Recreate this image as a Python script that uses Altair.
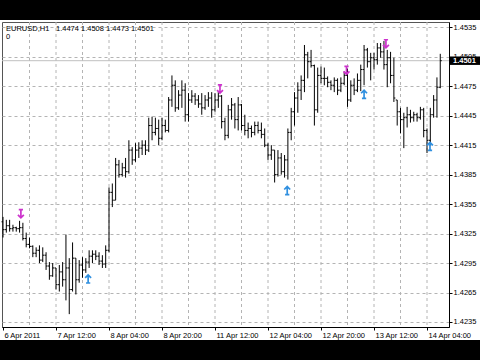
import altair as alt
import pandas as pd

# ---------------- data (EURUSD H1, 6 Apr 2011 20:00 ... 14 Apr 08:00) ----------------
open_ = [1.4337, 1.4329, 1.4333, 1.4330, 1.4331, 1.4330, 1.4331, 1.4320, 1.4314, 1.4312,
         1.4305, 1.4308, 1.4298, 1.4303, 1.4292, 1.4282, 1.4290, 1.4273, 1.4286, 1.4278,
         1.4290, 1.4268, 1.4300, 1.4278, 1.4293, 1.4288, 1.4296, 1.4302, 1.4304, 1.4302,
         1.4297, 1.4294, 1.4308, 1.4367, 1.4359, 1.4395, 1.4385, 1.4392, 1.4388, 1.4410,
         1.4400, 1.4410, 1.4412, 1.4415, 1.4410, 1.4435, 1.4428, 1.4432, 1.4422, 1.4435,
         1.4430, 1.4461, 1.4476, 1.4453, 1.4466, 1.4471, 1.4446, 1.4461, 1.4465, 1.4461,
         1.4457, 1.4453, 1.4461, 1.4463, 1.4451, 1.4461, 1.4465, 1.4439, 1.4425, 1.4451,
         1.4456, 1.4441, 1.4456, 1.4435, 1.4430, 1.4432, 1.4428, 1.4435, 1.4430, 1.4426,
         1.4415, 1.4405, 1.4410, 1.4385, 1.4402, 1.4388, 1.4400, 1.4428, 1.4449, 1.4463,
         1.4471, 1.4481, 1.4507, 1.4500, 1.4496, 1.4451, 1.4486, 1.4483, 1.4483, 1.4479,
         1.4476, 1.4481, 1.4471, 1.4478, 1.4486, 1.4461, 1.4476, 1.4471, 1.4481, 1.4492,
         1.4512, 1.4500, 1.4504, 1.4502, 1.4514, 1.4510, 1.4497, 1.4504, 1.4486, 1.4461,
         1.4449, 1.4441, 1.4443, 1.4446, 1.4443, 1.4446, 1.4443, 1.4451, 1.4430, 1.4420,
         1.4446, 1.4461, 1.4474]
high = [1.4342, 1.4339, 1.4339, 1.4334, 1.4332, 1.4338, 1.4336, 1.4326, 1.4321, 1.4313,
        1.4311, 1.4313, 1.4311, 1.4306, 1.4296, 1.4295, 1.4290, 1.4293, 1.4296, 1.4324,
        1.4300, 1.4316, 1.4300, 1.4298, 1.4301, 1.4300, 1.4308, 1.4308, 1.4308, 1.4306,
        1.4303, 1.4313, 1.4372, 1.4376, 1.4402, 1.4400, 1.4397, 1.4402, 1.4420, 1.4413,
        1.4417, 1.4418, 1.4420, 1.4420, 1.4443, 1.4444, 1.4443, 1.4441, 1.4443, 1.4441,
        1.4464, 1.4486, 1.4481, 1.4471, 1.4481, 1.4478, 1.4468, 1.4471, 1.4468, 1.4466,
        1.4468, 1.4466, 1.4469, 1.4469, 1.4468, 1.4469, 1.4466, 1.4443, 1.4456, 1.4463,
        1.4458, 1.4464, 1.4457, 1.4446, 1.4438, 1.4435, 1.4439, 1.4439, 1.4438, 1.4432,
        1.4417, 1.4415, 1.4410, 1.4410, 1.4407, 1.4405, 1.4432, 1.4453, 1.4469, 1.4479,
        1.4486, 1.4517, 1.4510, 1.4512, 1.4497, 1.4494, 1.4495, 1.4494, 1.4485, 1.4481,
        1.4484, 1.4483, 1.4484, 1.4490, 1.4493, 1.4481, 1.4483, 1.4488, 1.4497, 1.4517,
        1.4514, 1.4509, 1.4509, 1.4519, 1.4519, 1.4521, 1.4512, 1.4510, 1.4504, 1.4461,
        1.4453, 1.4448, 1.4454, 1.4451, 1.4449, 1.4448, 1.4454, 1.4453, 1.4432, 1.4453,
        1.4466, 1.4484, 1.4508]
low = [1.4321, 1.4326, 1.4327, 1.4327, 1.4327, 1.4326, 1.4318, 1.4311, 1.4310, 1.4301,
       1.4301, 1.4295, 1.4296, 1.4288, 1.4278, 1.4281, 1.4268, 1.4266, 1.4271, 1.4257,
       1.4243, 1.4266, 1.4263, 1.4275, 1.4280, 1.4285, 1.4290, 1.4295, 1.4298, 1.4293,
       1.4290, 1.4290, 1.4306, 1.4352, 1.4359, 1.4382, 1.4383, 1.4382, 1.4386, 1.4395,
       1.4398, 1.4402, 1.4405, 1.4405, 1.4408, 1.4420, 1.4425, 1.4415, 1.4420, 1.4428,
       1.4428, 1.4454, 1.4449, 1.4451, 1.4453, 1.4439, 1.4439, 1.4458, 1.4456, 1.4453,
       1.4446, 1.4451, 1.4454, 1.4443, 1.4449, 1.4453, 1.4432, 1.4420, 1.4422, 1.4441,
       1.4432, 1.4430, 1.4430, 1.4425, 1.4422, 1.4423, 1.4425, 1.4427, 1.4422, 1.4413,
       1.4400, 1.4400, 1.4377, 1.4383, 1.4385, 1.4382, 1.4380, 1.4420, 1.4435, 1.4448,
       1.4461, 1.4469, 1.4483, 1.4494, 1.4435, 1.4448, 1.4478, 1.4476, 1.4474, 1.4471,
       1.4469, 1.4466, 1.4469, 1.4476, 1.4454, 1.4459, 1.4466, 1.4469, 1.4470, 1.4476,
       1.4494, 1.4481, 1.4492, 1.4497, 1.4504, 1.4492, 1.4474, 1.4478, 1.4459, 1.4435,
       1.4427, 1.4412, 1.4433, 1.4438, 1.4439, 1.4439, 1.4441, 1.4423, 1.4407, 1.4415,
       1.4443, 1.4443, 1.4473]
close = [1.4329, 1.4333, 1.4330, 1.4331, 1.4330, 1.4331, 1.4320, 1.4314, 1.4312, 1.4305,
         1.4308, 1.4298, 1.4303, 1.4292, 1.4282, 1.4290, 1.4273, 1.4286, 1.4278, 1.4290,
         1.4268, 1.4300, 1.4278, 1.4293, 1.4288, 1.4296, 1.4302, 1.4304, 1.4302, 1.4297,
         1.4294, 1.4308, 1.4367, 1.4359, 1.4395, 1.4385, 1.4392, 1.4388, 1.4410, 1.4400,
         1.4410, 1.4412, 1.4415, 1.4410, 1.4435, 1.4428, 1.4432, 1.4422, 1.4435, 1.4430,
         1.4461, 1.4476, 1.4453, 1.4466, 1.4471, 1.4446, 1.4461, 1.4465, 1.4461, 1.4457,
         1.4453, 1.4461, 1.4463, 1.4451, 1.4461, 1.4465, 1.4439, 1.4425, 1.4451, 1.4456,
         1.4441, 1.4456, 1.4435, 1.4430, 1.4432, 1.4428, 1.4435, 1.4430, 1.4426, 1.4415,
         1.4405, 1.4410, 1.4385, 1.4402, 1.4388, 1.4400, 1.4428, 1.4449, 1.4463, 1.4471,
         1.4481, 1.4507, 1.4500, 1.4496, 1.4451, 1.4486, 1.4483, 1.4483, 1.4479, 1.4476,
         1.4481, 1.4471, 1.4478, 1.4486, 1.4461, 1.4476, 1.4471, 1.4481, 1.4492, 1.4512,
         1.4500, 1.4504, 1.4502, 1.4514, 1.4510, 1.4497, 1.4504, 1.4486, 1.4463, 1.4449,
         1.4441, 1.4443, 1.4446, 1.4443, 1.4446, 1.4443, 1.4451, 1.4430, 1.4420, 1.4446,
         1.4461, 1.4474, 1.4501]

tick_idx = [0, 16, 32, 48, 64, 80, 96, 112, 128]
tick_labels = ["6 Apr 2011", "7 Apr 12:00", "8 Apr 04:00", "8 Apr 20:00", "11 Apr 12:00",
               "12 Apr 04:00", "12 Apr 20:00", "13 Apr 12:00", "14 Apr 04:00"]
grid_idx = [8, 16, 24, 32, 40, 48, 56, 64, 72, 80, 88, 96, 104, 112, 120, 128]
y_ticks = [1.4235, 1.4265, 1.4295, 1.4325, 1.4355, 1.4385, 1.4415, 1.4445, 1.4475, 1.4505, 1.4535]

frac_up_idx = [5.4, 65.5, 103.7, 115.6]          # magenta arrows (up fractals)
frac_up_price = [1.4345, 1.4472, 1.4491, 1.4518]
frac_dn_idx = [25.7, 85.8, 109.0, 128.9]         # blue arrows (down fractals)
frac_dn_price = [1.4279, 1.4369, 1.4467, 1.4414]

symbol_text = "EURUSD,H1"
ohlc_text = "1.4474 1.4508 1.4473 1.4501"
second_line = "0"
bid = 1.4501

# ---------------- chart ----------------
n = len(close)
bars = pd.DataFrame({"i": list(range(n)), "o": open_, "h": high, "l": low, "c": close})
bars["il"] = bars["i"] - 0.45
bars["ir"] = bars["i"] + 0.45

W, H = 447, 305
FONT = "Liberation Sans"
xs = alt.Scale(domain=[-0.302, 134.64], nice=False, zero=False)
ys = alt.Scale(domain=[1.42299, 1.45404], nice=False, zero=False)

label_expr = ""
for v, t in zip(tick_idx, tick_labels):
    label_expr += f"datum.value == {v} ? '{t}' : "
label_expr += "''"

x_axis = alt.Axis(values=tick_idx, labelExpr=label_expr, orient="bottom", grid=False,
                  tickSize=3, labelAlign="left", labelPadding=1, labelOffset=1,
                  labelFontSize=7.5, labelFont=FONT, labelColor="black",
                  domainColor="black", tickColor="black", labelFlush=False,
                  labelOverlap=False, labelBound=False, title=None)
y_axis = alt.Axis(values=y_ticks, format=".4f", orient="right", grid=True,
                  gridDash=[3, 3], gridColor="#b4b4b4", tickSize=3, labelPadding=1,
                  labelFontSize=7.5, labelFont=FONT, labelColor="black",
                  domainColor="black", tickColor="black", labelOverlap=False,
                  labelFlush=False, labelBound=False, title=None)


def X(field, **kw):
    return alt.X(field, scale=xs, axis=x_axis, **kw)


def Y(field, **kw):
    return alt.Y(field, scale=ys, axis=y_axis, **kw)


one = pd.DataFrame({"a": [0]})

vgrid = alt.Chart(pd.DataFrame({"g": grid_idx})).mark_rule(
    color="#b4b4b4", strokeDash=[3, 3], strokeWidth=1
).encode(x=X("g:Q"))

bidline = alt.Chart(pd.DataFrame({"b": [bid]})).mark_rule(color="#c0c0c0", strokeWidth=1).encode(
    y=Y("b:Q"))

hl = alt.Chart(bars).mark_rule(color="black", strokeWidth=1).encode(
    x=X("i:Q"), y=Y("l:Q"), y2="h:Q")
otick = alt.Chart(bars).mark_rule(color="black", strokeWidth=1).encode(
    x=X("il:Q"), x2="i:Q", y=Y("o:Q"))
ctick = alt.Chart(bars).mark_rule(color="black", strokeWidth=1).encode(
    x=X("i:Q"), x2="ir:Q", y=Y("c:Q"))

down_arrow = "M0,-1L0,0.9M-0.7,0.2L0,0.9L0.7,0.2M-0.5,-1L0.5,-1"
up_arrow = "M0,1L0,-0.9M-0.7,-0.2L0,-0.9L0.7,-0.2M-0.5,1L0.5,1"
fr_up = alt.Chart(pd.DataFrame({"i": frac_up_idx, "p": frac_up_price})).mark_point(
    shape=down_arrow, filled=False, size=72, strokeWidth=1.7, color="#cc33cc", opacity=1
).encode(x=X("i:Q"), y=Y("p:Q"))
fr_dn = alt.Chart(pd.DataFrame({"i": frac_dn_idx, "p": frac_dn_price})).mark_point(
    shape=up_arrow, filled=False, size=72, strokeWidth=1.7, color="#3090e0", opacity=1
).encode(x=X("i:Q"), y=Y("p:Q"))

top_band = alt.Chart(one).mark_rect(color="black").encode(
    x=alt.value(-2), x2=alt.value(478), y=alt.value(-22), y2=alt.value(-2))
bottom_band = alt.Chart(one).mark_rect(color="black").encode(
    x=alt.value(-2), x2=alt.value(478), y=alt.value(318), y2=alt.value(338))

tag = pd.DataFrame({"b": [bid], "t": [bid + 0.00043], "u": [bid - 0.00043],
                    "s": [f"{bid:.4f}"]})
tag_box = alt.Chart(tag).mark_rect(color="black").encode(
    x=alt.value(W), x2=alt.value(478), y=Y("t:Q"), y2="u:Q")
tag_text = alt.Chart(tag).mark_text(
    color="white", align="left", baseline="middle",
    font=FONT, fontSize=7.5, fontWeight="bold"
).encode(x=alt.value(W + 4), y=Y("b:Q"), text="s:N")

t1 = alt.Chart(one).mark_text(text=symbol_text, align="left", baseline="middle",
                              font=FONT, fontSize=7.5, color="black").encode(
    x=alt.value(4), y=alt.value(7))
t2 = alt.Chart(one).mark_text(text=ohlc_text, align="left", baseline="middle",
                              font=FONT, fontSize=7.5, color="black").encode(
    x=alt.value(54), y=alt.value(7))
t3 = alt.Chart(one).mark_text(text=second_line, align="left", baseline="middle",
                              font=FONT, fontSize=7.5, color="black").encode(
    x=alt.value(4), y=alt.value(15))

chart = alt.layer(
    vgrid, bidline, hl, otick, ctick, fr_up, fr_dn,
    top_band, bottom_band, tag_box, tag_text, t1, t2, t3
).properties(
    width=W, height=H,
    autosize=alt.AutoSizeParams(type="none"),
    padding={"left": 2, "top": 22, "right": 31, "bottom": 33},
    background="white",
).configure_view(stroke="#555555", strokeWidth=1)

chart.save("out.html", embed_options={"renderer": "svg", "actions": False})
